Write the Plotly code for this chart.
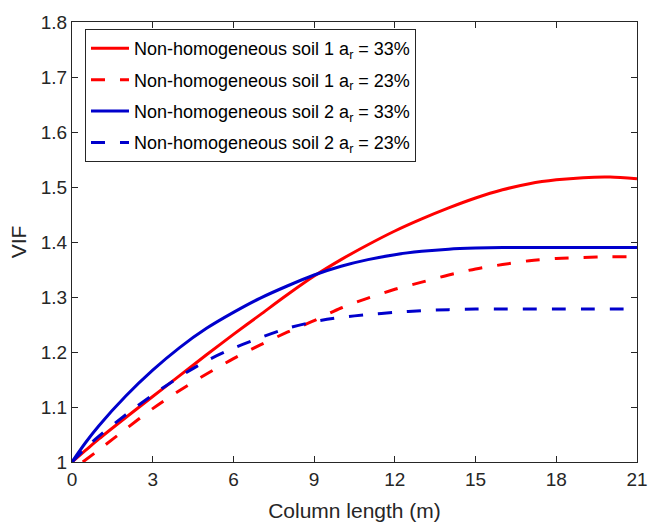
import plotly.graph_objects as go

# Column length (m)
x_full = [0, 0.5, 1, 2, 3, 4, 5, 6, 7, 8, 9, 10, 11, 12, 13, 14, 15, 16, 17, 18, 19, 20, 21]
x_red_dash = [0.4, 1, 2, 3, 4, 5, 6, 7, 8, 9, 10, 11, 12, 13, 14, 15, 16, 17, 18, 19, 20, 21]

# VIF values
vif_soil1_33 = [1.0, 1.021, 1.042, 1.081, 1.119, 1.157, 1.195, 1.232, 1.268, 1.304, 1.338, 1.368,
                1.395, 1.420, 1.442, 1.462, 1.480, 1.495, 1.506, 1.513, 1.517, 1.518, 1.515]
vif_soil1_23 = [1.0, 1.022, 1.060, 1.097, 1.130, 1.160, 1.188, 1.213, 1.236, 1.257, 1.280,
                1.298, 1.314, 1.327, 1.340, 1.351, 1.359, 1.366, 1.370, 1.372, 1.373, 1.373]
vif_soil2_33 = [1.0, 1.035, 1.066, 1.120, 1.167, 1.208, 1.243, 1.272, 1.298, 1.320, 1.340, 1.356,
                1.368, 1.377, 1.383, 1.387, 1.389, 1.390, 1.390, 1.390, 1.390, 1.390, 1.390]
vif_soil2_23 = [1.0, 1.025, 1.047, 1.086, 1.122, 1.155, 1.184, 1.207, 1.226, 1.243, 1.255, 1.263,
                1.268, 1.272, 1.275, 1.277, 1.278, 1.278, 1.278, 1.278, 1.278, 1.278, 1.278]

names = [
    "Non-homogeneous soil 1 a<sub>r</sub> = 33%",
    "Non-homogeneous soil 1 a<sub>r</sub> = 23%",
    "Non-homogeneous soil 2 a<sub>r</sub> = 33%",
    "Non-homogeneous soil 2 a<sub>r</sub> = 23%",
]

x_ticks = [0, 3, 6, 9, 12, 15, 18, 21]
y_ticks = [1.0, 1.1, 1.2, 1.3, 1.4, 1.5, 1.6, 1.7, 1.8]
y_tick_text = ["1", "1.1", "1.2", "1.3", "1.4", "1.5", "1.6", "1.7", "1.8"]

RED = "#ff0000"
BLUE = "#0000cc"
DASH = "14px,15px"

fig = go.Figure()
series = [
    (x_full, vif_soil1_33, RED, "solid"),
    (x_red_dash, vif_soil1_23, RED, DASH),
    (x_full, vif_soil2_33, BLUE, "solid"),
    (x_full, vif_soil2_23, BLUE, DASH),
]
for i, ((xs, ys, color, dash), name) in enumerate(zip(series, names)):
    fig.add_trace(go.Scatter(
        x=xs, y=ys, mode="lines", name=name, legendgroup=f"g{i}",
        line=dict(color=color, width=3, dash=dash, shape="spline", smoothing=0.8),
    ))

axis_color = "#262626"
font_family = "Arial, Liberation Sans, Helvetica, sans-serif"

fig.update_layout(
    width=648, height=523,
    margin=dict(l=72, r=11, t=22, b=61),
    paper_bgcolor="white", plot_bgcolor="white",
    font=dict(family=font_family, color=axis_color, size=19),
    showlegend=True,
    legend=dict(
        x=0.023, y=0.984, xanchor="left", yanchor="top",
        bgcolor="white", bordercolor=axis_color, borderwidth=1,
        font=dict(size=18, color="black"),
        tracegroupgap=5, itemwidth=38,
    ),
    xaxis=dict(
        range=[0, 21], tickvals=x_ticks, ticks="inside", ticklen=6,
        tickcolor=axis_color, showline=True, linecolor=axis_color, linewidth=1,
        mirror="ticks", showgrid=False, zeroline=False, automargin=False,
        tickfont=dict(size=19),
        title=dict(text="Column length (m)", font=dict(size=21), standoff=14),
    ),
    yaxis=dict(
        range=[1, 1.8], tickvals=y_ticks, ticktext=y_tick_text, ticks="inside", ticklen=6,
        tickcolor=axis_color, showline=True, linecolor=axis_color, linewidth=1,
        mirror="ticks", showgrid=False, zeroline=False, automargin=False,
        tickfont=dict(size=19),
        title=dict(text="VIF", font=dict(size=21), standoff=8),
    ),
)

fig.write_html("out.html")
